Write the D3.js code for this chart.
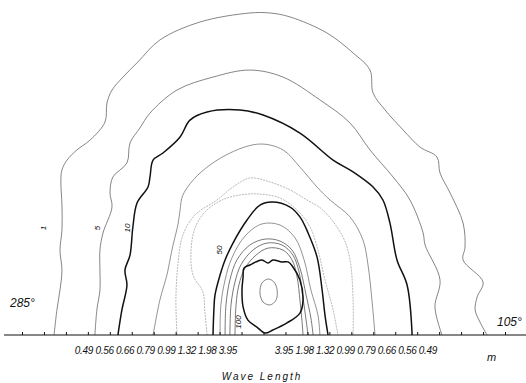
<!DOCTYPE html>
<html>
<head>
<meta charset="utf-8">
<script src="https://cdn.jsdelivr.net/npm/d3@7"></script>
<style>
  body { margin: 0; background: #fff; }
  svg { display: block; }
  text { font-family: "Liberation Sans", "DejaVu Sans", sans-serif; font-style: italic; fill: #111; }
</style>
</head>
<body>
<div id="chart"></div>
<script>
// wavelength labels (m), index = wavenumber step from centre
var leftLabels = ["0.49", "0.56", "0.66", "0.79", "0.99", "1.32", "1.98", "3.95"];
var rightLabels = ["3.95", "1.98", "1.32", "0.99", "0.79", "0.66", "0.56", "0.49"];
var tickSteps = d3.range(-11, 12);

// contour lines, [kx, ky] in wavenumber steps
var c1 = [[-9.54,0],[-9.41,1.14],[-9.27,2.05],[-9.18,2.96],[-9.27,3.87],[-9.18,4.78],[-9.18,5.92],[-9.23,7.06],[-9.18,7.52],[-8.95,7.97],[-8.50,8.43],[-7.90,8.88],[-7.22,9.70],[-7.13,10.57],[-6.90,11.16],[-6.40,11.75],[-5.72,12.44],[-4.72,13.44],[-2.89,14.26],[-0.62,14.67],[0.30,14.67],[1.21,14.49],[2.89,13.76],[4.08,12.85],[4.85,12.07],[4.99,11.03],[5.54,10.25],[6.36,9.34],[7.13,8.56],[7.90,8.11],[8.04,7.38],[8.50,6.47],[9.09,5.10],[9.18,4.01],[9.09,3.42],[10.00,2.41],[9.73,1.73],[9.64,1.14],[9.86,0.59],[10.18,0]];
var c2 = [[-7.68,0],[-7.59,1.14],[-7.45,2.05],[-7.45,2.96],[-7.45,3.87],[-7.31,4.65],[-6.90,5.83],[-6.99,6.47],[-6.86,7.20],[-6.22,7.84],[-6.08,8.75],[-5.63,9.43],[-5.17,10.11],[-3.94,11.16],[-2.30,11.75],[-0.62,12.07],[0.89,11.75],[2.57,10.71],[3.94,9.66],[4.85,8.43],[5.90,7.20],[6.67,6.15],[7.27,4.65],[7.36,4.10],[8.04,2.51],[7.81,1.28],[8.13,0]];
var c3 = [[-6.63,0],[-6.45,1.14],[-6.22,2.28],[-6.31,2.96],[-6.08,3.64],[-5.95,4.92],[-5.76,6.01],[-5.26,6.74],[-5.17,7.20],[-5.03,7.97],[-4.58,8.29],[-3.80,9.02],[-3.35,9.79],[-2.57,10.16],[-1.07,10.25],[-0.02,10.02],[1.66,9.20],[3.17,7.97],[4.08,7.43],[4.99,6.74],[5.44,6.15],[5.76,5.10],[6.08,3.42],[6.54,2.28],[6.77,0]];
var c4 = [[-5.03,0],[-4.72,1.59],[-4.40,2.73],[-4.26,3.42],[-4.12,4.10],[-3.90,5.01],[-3.80,5.69],[-3.67,6.38],[-2.89,7.38],[-1.53,8.29],[-0.16,8.70],[0.89,8.43],[1.66,7.65],[2.44,6.74],[3.03,6.15],[3.94,5.38],[4.53,4.33],[4.76,3.19],[4.94,1.59],[5.08,0]];
var c5 = [[-3.94,0],[-3.99,1.59],[-3.90,3.19],[-3.67,4.56],[-3.12,5.47],[-2.12,6.15],[-1.39,6.74],[-0.62,7.15],[0.30,6.97],[1.21,6.61],[1.98,6.15],[2.71,5.69],[3.62,4.46],[3.94,3.42],[4.08,1.59],[4.08,0]];
var c6 = [[-2.57,0],[-2.67,1.05],[-2.76,1.96],[-3.21,2.73],[-3.30,3.87],[-3.12,4.87],[-2.67,5.60],[-1.89,6.15],[-1.07,6.38],[-0.16,6.42],[0.75,6.24],[1.53,5.69],[2.12,4.92],[2.48,3.87],[2.80,2.51],[3.17,1.14],[3.39,0]];
var c50 = [[-2.30,0],[-2.26,1.14],[-2.21,1.82],[-1.98,2.73],[-1.75,3.42],[-1.39,4.19],[-0.75,5.24],[-0.16,5.92],[0.39,6.06],[1.21,5.83],[1.66,5.38],[2.03,4.65],[2.44,3.55],[2.67,2.05],[2.80,0.91],[2.94,0]];
var i1 = [[-1.98,0],[-1.94,1.37],[-1.75,2.51],[-1.44,3.51],[-0.84,4.51],[-0.07,5.06],[0.75,5.01],[1.44,4.42],[1.85,3.42],[2.16,2.05],[2.48,0.91],[2.57,0]];
var i2 = [[-1.75,0],[-1.71,1.37],[-1.53,2.51],[-1.21,3.42],[-0.62,4.10],[0.07,4.37],[0.75,4.28],[1.30,3.87],[1.66,3.05],[1.94,1.82],[2.16,0.77],[2.26,0]];
var i3 = [[-1.53,0],[-1.48,1.37],[-1.30,2.41],[-1.03,3.19],[-0.48,3.87],[0.16,4.19],[0.84,4.10],[1.34,3.64],[1.62,2.87],[1.80,1.69],[1.94,0.68],[2.03,0]];
var i4 = [[-1.30,0],[-1.25,1.37],[-1.12,2.28],[-0.84,3.05],[-0.34,3.64],[0.21,3.96],[0.89,3.87],[1.30,3.42],[1.53,2.64],[1.66,1.59],[1.75,0.68],[1.80,0]];
var c100 = [[-0.98,2.05],[-0.93,2.64],[-0.89,3.05],[-0.62,3.19],[-0.34,3.33],[-0.07,3.42],[0.21,3.28],[0.43,3.42],[0.84,3.33],[1.12,3.33],[1.34,3.10],[1.66,2.51],[1.80,1.59],[1.66,1.00],[1.07,0.55],[0.43,0.23],[0.07,0.09],[-0.30,0.36],[-0.71,0.68],[-0.93,1.28]];
var peak = [[0.21,2.55],[0.48,2.41],[0.62,2.05],[0.57,1.59],[0.30,1.37],[-0.02,1.50],[-0.16,1.91],[-0.07,2.37]];

var contourLabels = [
  { text: "1", at: [-10.05, 4.87] },
  { text: "5", at: [-7.59, 4.87] },
  { text: "10", at: [-6.22, 4.87] },
  { text: "50", at: [-2.03, 3.87] },
  { text: "100", at: [-1.16, 0.59] }
];

var width = 526, height = 383;
var svg = d3.select("#chart").append("svg")
  .attr("width", width)
  .attr("height", height);

var x = d3.scaleLinear().domain([-11, 11]).range([22, 505]);
var y = d3.scaleLinear().domain([0, 15]).range([335, 335 - 15 * 21.95]);
// the printed wavelength labels sit a little off the tick marks
var xLab = d3.scaleLinear().domain([-8, -1, 1, 8]).range([84, 228, 284, 428]);

var line = d3.line()
  .x(function(d) { return x(d[0]); })
  .y(function(d) { return y(d[1]); })
  .curve(d3.curveCatmullRom.alpha(0.5));
var loop = d3.line()
  .x(function(d) { return x(d[0]); })
  .y(function(d) { return y(d[1]); })
  .curve(d3.curveCatmullRomClosed.alpha(0.5));

var contours = [
  { pts: c1, w: 0.8, col: "#666" },
  { pts: c2, w: 0.8, col: "#666" },
  { pts: c3, w: 1.5, col: "#111" },
  { pts: c4, w: 0.8, col: "#777" },
  { pts: c5, w: 0.7, col: "#999", dash: "2,1" },
  { pts: c6, w: 0.7, col: "#999", dash: "2,1" },
  { pts: c50, w: 1.5, col: "#111" },
  { pts: i1, w: 0.8, col: "#777" },
  { pts: i2, w: 0.8, col: "#555" },
  { pts: i3, w: 0.8, col: "#555" },
  { pts: i4, w: 0.8, col: "#555" }
];

var g = svg.append("g");

g.selectAll(".contour")
  .data(contours)
  .enter().append("path")
  .attr("class", "contour")
  .attr("d", function(d) { return line(d.pts); })
  .attr("fill", "none")
  .attr("stroke", function(d) { return d.col; })
  .attr("stroke-width", function(d) { return d.w; })
  .attr("stroke-dasharray", function(d) { return d.dash || null; });

g.append("path")
  .attr("d", loop(c100))
  .attr("fill", "none")
  .attr("stroke", "#111")
  .attr("stroke-width", 1.5);

g.append("path")
  .attr("d", loop(peak))
  .attr("fill", "none")
  .attr("stroke", "#666")
  .attr("stroke-width", 0.8);

// baseline and ticks
svg.append("line")
  .attr("x1", 4).attr("x2", width)
  .attr("y1", y(0)).attr("y2", y(0))
  .attr("stroke", "#111")
  .attr("stroke-width", 1.2);

svg.append("g")
  .attr("transform", "translate(0," + y(0) + ")")
  .call(d3.axisTop(x).tickValues(tickSteps).tickSize(3).tickSizeOuter(0).tickFormat(""))
  .call(function(a) { a.select(".domain").remove(); })
  .selectAll("line").attr("stroke", "#111");

svg.selectAll(".lab-left")
  .data(leftLabels)
  .enter().append("text")
  .attr("x", function(d, i) { return xLab(i - 8); })
  .attr("y", 354)
  .attr("text-anchor", "middle")
  .attr("font-size", 10)
  .attr("letter-spacing", -0.3)
  .text(function(d) { return d; });

svg.selectAll(".lab-right")
  .data(rightLabels)
  .enter().append("text")
  .attr("x", function(d, i) { return xLab(i + 1); })
  .attr("y", 354)
  .attr("text-anchor", "middle")
  .attr("font-size", 10)
  .attr("letter-spacing", -0.3)
  .text(function(d) { return d; });

svg.selectAll(".clab")
  .data(contourLabels)
  .enter().append("text")
  .attr("transform", function(d) { return "translate(" + x(d.at[0]) + "," + y(d.at[1]) + ") rotate(-90)"; })
  .attr("text-anchor", "middle")
  .attr("dy", "0.35em")
  .attr("font-size", 8)
  .attr("fill", "#444")
  .text(function(d) { return d.text; });

svg.append("text").attr("x", 10).attr("y", 307).attr("font-size", 12).text("285°");
svg.append("text").attr("x", 497).attr("y", 326).attr("font-size", 12).text("105°");
svg.append("text").attr("x", 487).attr("y", 361).attr("font-size", 11).text("m");
svg.append("text")
  .attr("x", 262).attr("y", 380)
  .attr("text-anchor", "middle")
  .attr("font-size", 10)
  .attr("letter-spacing", 2)
  .text("Wave Length");
</script>
</body>
</html>
